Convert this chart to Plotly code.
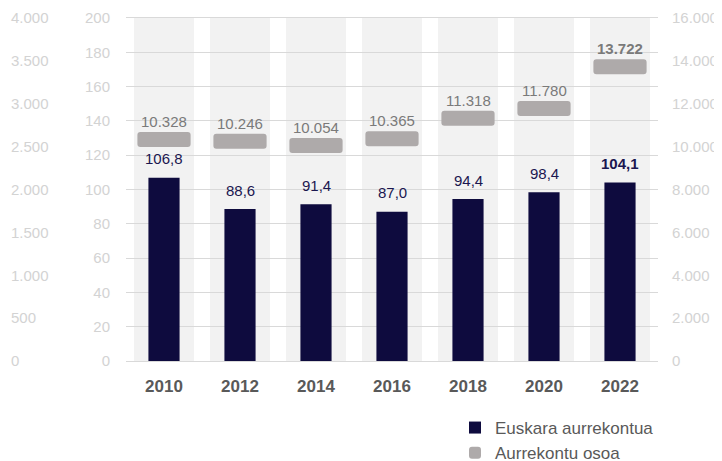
import plotly.graph_objects as go

years = ["2010", "2012", "2014", "2016", "2018", "2020", "2022"]
euskara = [106.8, 88.6, 91.4, 87.0, 94.4, 98.4, 104.1]
osoa = [10328, 10246, 10054, 10365, 11318, 11780, 13722]

NAVY = "#0e0b3e"
GRAY = "#aeaaaa"
FONT = "Liberation Sans"

# the page body has an 8px margin, so the figure is drawn 8px smaller/offset
W, H = 714, 453
L_PX, R_PX = 118, 650
TOP, BOT = 10, 353
thick = 700  # thickness of the total-budget marker in right-axis units

fig = go.Figure()
fig.add_trace(go.Bar(
    x=years, y=euskara, yaxis="y", width=0.41,
    marker=dict(color=NAVY, line=dict(width=0)),
    name="Euskara aurrekontua", hoverinfo="skip",
))
fig.add_trace(go.Bar(
    x=years, y=[thick] * len(osoa), base=[v - thick / 2 for v in osoa],
    yaxis="y3", width=0.70,
    marker=dict(color=GRAY, line=dict(width=0), cornerradius=3),
    name="Aurrekontu osoa", hoverinfo="skip",
))
fig.add_trace(go.Scatter(x=[years[0]], y=[0], yaxis="y2", mode="markers",
                         marker=dict(opacity=0), showlegend=False, hoverinfo="skip"))

# white gaps between the grey category columns (above gridlines, below traces)
gap = 0.21
shapes = []
for i in range(len(years) + 1):
    shapes.append(dict(type="rect", xref="x", yref="paper", layer="between",
                       x0=i - 0.5 - gap / 2, x1=i - 0.5 + gap / 2, y0=0, y1=1,
                       fillcolor="white", line=dict(width=0)))

annotations = []
last = len(years) - 1
for i, (yr, v) in enumerate(zip(years, euskara)):
    txt = f"{v:.1f}".replace(".", ",")
    if i == last:
        txt = f"<b>{txt}</b>"
    annotations.append(dict(x=i, y=v, xref="x", yref="y", text=txt, showarrow=False,
                            yshift=19, font=dict(family=FONT, size=15, color="#1b1750")))
for i, (yr, v) in enumerate(zip(years, osoa)):
    txt = f"{v:,}".replace(",", ".")
    if i == last:
        txt = f"<b>{txt}</b>"
    annotations.append(dict(x=i, y=v, xref="x", yref="y3", text=txt, showarrow=False,
                            yshift=18, font=dict(family=FONT, size=15, color="#7a7a7a")))

tickfont = dict(family=FONT, size=15, color="#d3d3d3")
fig.update_layout(
    width=W, height=H,
    margin=dict(l=0, r=0, t=TOP, b=H - BOT, autoexpand=False),
    paper_bgcolor="white", plot_bgcolor="#f2f2f2",
    separators=",.",
    barmode="overlay",
    font=dict(family=FONT),
    shapes=shapes, annotations=annotations,
    xaxis=dict(domain=[L_PX / W, R_PX / W], type="category", automargin=False,
               range=[-0.5, len(years) - 0.5], fixedrange=True,
               showline=True, mirror=True, linecolor="#d9d9d9", linewidth=1,
               showgrid=False, ticks="", ticklabelstandoff=10,
               tickfont=dict(family=FONT, size=17, color="#595959", weight="bold")),
    yaxis=dict(range=[0, 200], dtick=20, showgrid=True, gridcolor="#d9d9d9",
               automargin=False,
               zeroline=False, showline=False, ticks="", ticklabelstandoff=15,
               tickfont=tickfont),
    yaxis2=dict(range=[0, 4000], dtick=500, overlaying="y", anchor="free",
                position=0.0, side="right", showgrid=False, zeroline=False,
                automargin=False,
                ticks="", ticklabelstandoff=2, separatethousands=True,
                exponentformat="none", tickfont=tickfont, showline=False),
    yaxis3=dict(range=[0, 16000], dtick=2000, overlaying="y", anchor="x",
                side="right", showgrid=False, zeroline=False, ticks="",
                automargin=False,
                ticklabelstandoff=13, separatethousands=True,
                exponentformat="none", tickfont=tickfont),
    legend=dict(x=447 / W, xanchor="left", y=(BOT - 402) / (BOT - TOP), yanchor="top",
                orientation="v", font=dict(family=FONT, size=17, color="#595959"),
                tracegroupgap=0, itemwidth=30, bgcolor="rgba(0,0,0,0)"),
    showlegend=True,
)

fig.write_html("out.html")
